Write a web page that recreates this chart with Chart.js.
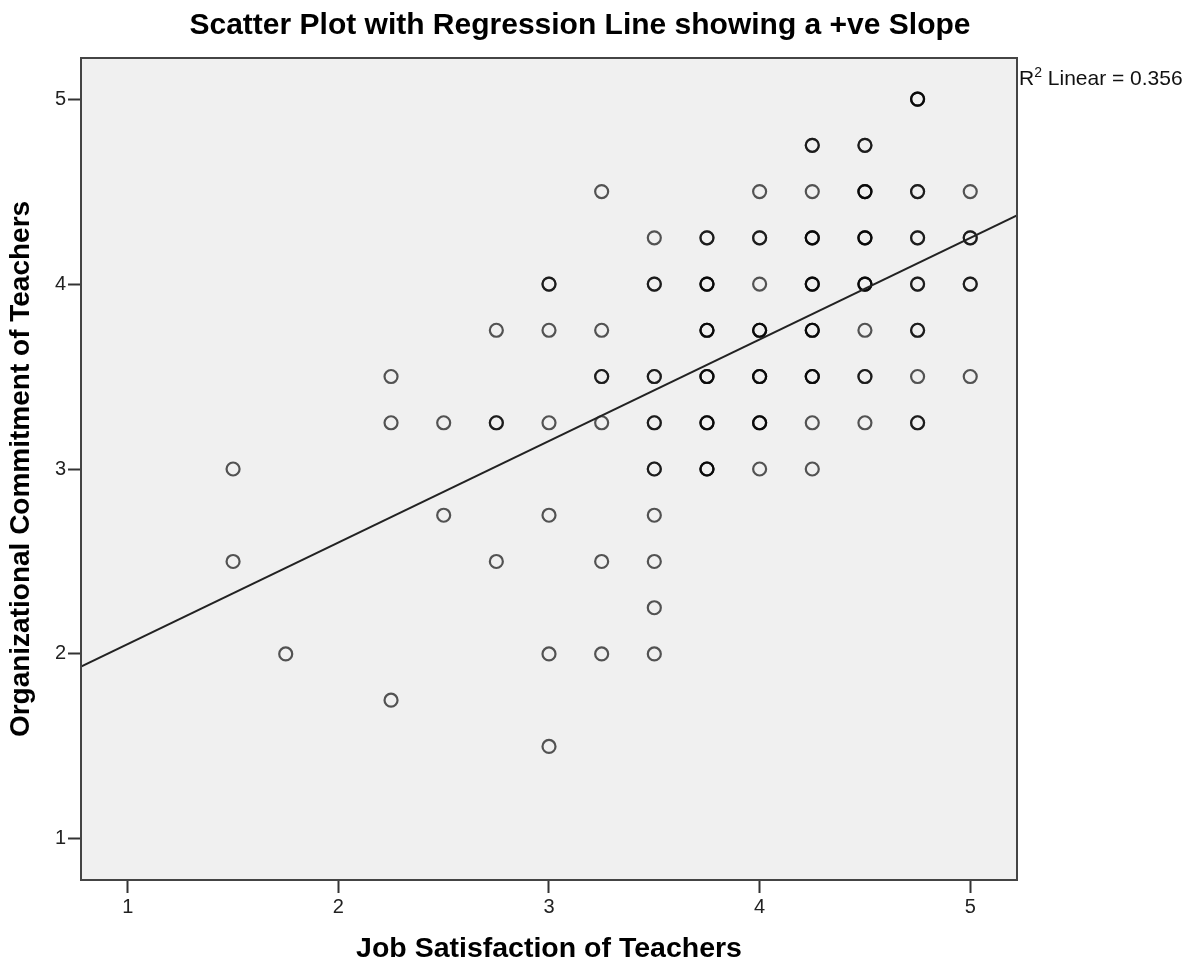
<!DOCTYPE html>
<html><head><meta charset="utf-8">
<script src="https://cdn.jsdelivr.net/npm/chart.js@4.4.1/dist/chart.umd.min.js"></script>
<style>html,body{margin:0;padding:0;background:#fff;}#wrap{width:1190px;height:964px;}</style>
</head><body><div id="wrap"><canvas id="c" width="1190" height="964"></canvas></div>
<script>
// Job satisfaction (x), organizational commitment (y), number of overlapping cases at that spot
const jobSatisfaction = [
  1.5,1.5,
  1.75,
  2.25,2.25,2.25,
  2.5,2.5,
  2.75,2.75,2.75,
  3,3,3,3,3,3,
  3.25,3.25,3.25,3.25,3.25,3.25,
  3.5,3.5,3.5,3.5,3.5,3.5,3.5,3.5,3.5,
  3.75,3.75,3.75,3.75,3.75,3.75,
  4,4,4,4,4,4,4,
  4.25,4.25,4.25,4.25,4.25,4.25,4.25,4.25,
  4.5,4.5,4.5,4.5,4.5,4.5,4.5,
  4.75,4.75,4.75,4.75,4.75,4.75,4.75,
  5,5,5,5
];
const orgCommitment = [
  3,2.5,
  2,
  3.5,3.25,1.75,
  3.25,2.75,
  3.75,3.25,2.5,
  4,3.75,3.25,2.75,2,1.5,
  4.5,3.75,3.5,3.25,2.5,2,
  4.25,4,3.5,3.25,3,2.75,2.5,2.25,2,
  4.25,4,3.75,3.5,3.25,3,
  4.5,4.25,4,3.75,3.5,3.25,3,
  4.75,4.5,4.25,4,3.75,3.5,3.25,3,
  4.75,4.5,4.25,4,3.75,3.5,3.25,
  5,4.5,4.25,4,3.75,3.5,3.25,
  4.5,4.25,4,3.5
];
const caseCounts = [
  1,1,
  1,
  1,1,1,
  1,1,
  1,2,1,
  2,1,1,1,1,1,
  1,1,2,1,1,1,
  1,2,2,2,2,1,1,1,1,
  2,3,3,3,3,3,
  1,2,1,3,3,3,1,
  2,1,3,3,3,3,1,1,
  2,3,3,3,1,2,1,
  3,2,2,2,2,1,2,
  1,2,2,1
];
const xTickValues = [1,2,3,4,5];
const yTickValues = [1,2,3,4,5];
const regressionIntercept = 1.504;
const regressionSlope = 0.549;
const rSquared = '0.356';

const axisMin = 0.778, axisMax = 5.222;
const FONT = '"Liberation Sans", Arial, sans-serif';

const points = [];
jobSatisfaction.forEach((x, i) => {
  for (let k = 0; k < caseCounts[i]; k++) points.push({x: x, y: orgCommitment[i]});
});
const fitLine = [axisMin, axisMax].map(x => ({x: x, y: regressionIntercept + regressionSlope * x}));

const framePlugin = {
  id: 'frame',
  beforeDatasetsDraw(chart) {
    const {ctx, chartArea: a} = chart;
    ctx.save();
    ctx.fillStyle = '#f0f0f0';
    ctx.fillRect(a.left, a.top, a.right - a.left, a.bottom - a.top);
    ctx.restore();
  },
  afterDraw(chart) {
    const {ctx, chartArea: a} = chart;
    ctx.save();
    ctx.strokeStyle = '#444';
    ctx.lineWidth = 2;
    ctx.strokeRect(a.left, a.top, a.right - a.left, a.bottom - a.top);
    // R squared annotation
    ctx.fillStyle = '#111';
    ctx.textBaseline = 'alphabetic';
    ctx.textAlign = 'left';
    let x = a.right + 2;
    const base = 85;
    ctx.font = '21px ' + FONT;
    ctx.fillText('R', x, base);
    x += ctx.measureText('R').width;
    ctx.font = '14px ' + FONT;
    ctx.fillText('2', x, base - 8);
    x += ctx.measureText('2').width;
    ctx.font = '21px ' + FONT;
    ctx.fillText(' Linear = ' + rSquared, x, base);
    ctx.restore();
  }
};

new Chart(document.getElementById('c'), {
  data: {
    datasets: [
      {
        type: 'scatter',
        data: points,
        pointStyle: 'circle',
        pointRadius: 6.5,
        pointHoverRadius: 6.5,
        pointBorderWidth: 2.2,
        pointBackgroundColor: 'rgba(0,0,0,0)',
        pointBorderColor: 'rgba(0,0,0,0.66)',
        order: 2
      },
      {
        type: 'line',
        data: fitLine,
        borderColor: '#222',
        borderWidth: 2,
        pointRadius: 0,
        fill: false,
        order: 1
      }
    ]
  },
  options: {
    responsive: false,
    animation: false,
    devicePixelRatio: 1,
    layout: {padding: {left: 0, right: 30, top: 0, bottom: 0}},
    plugins: {
      legend: {display: false},
      tooltip: {enabled: false},
      title: {
        display: true,
        text: 'Scatter Plot with Regression Line showing a +ve Slope',
        color: '#000',
        font: {family: FONT, size: 30, weight: 'bold', lineHeight: 1.2},
        padding: {top: 8, bottom: 14}
      }
    },
    scales: {
      x: {
        type: 'linear',
        min: axisMin, max: axisMax,
        afterBuildTicks: s => { s.ticks = xTickValues.map(v => ({value: v})); },
        afterFit: s => { s.height = 84; },
        ticks: {color: '#222', font: {family: FONT, size: 20}, padding: 2, maxRotation: 0, autoSkip: false},
        grid: {display: true, drawOnChartArea: false, drawTicks: true, tickLength: 13, tickWidth: 2, tickColor: '#333'},
        border: {display: true, color: '#444', width: 2},
        title: {display: true, text: 'Job Satisfaction of Teachers', color: '#000',
          font: {family: FONT, size: 28.5, weight: 'bold', lineHeight: 1}, padding: {top: 0, bottom: 1}}
      },
      y: {
        type: 'linear',
        min: axisMin, max: axisMax,
        afterBuildTicks: s => { s.ticks = yTickValues.map(v => ({value: v})); },
        afterFit: s => { s.width = 81; },
        ticks: {color: '#222', font: {family: FONT, size: 20}, padding: 2, autoSkip: false},
        grid: {display: true, drawOnChartArea: false, drawTicks: true, tickLength: 13, tickWidth: 2, tickColor: '#333'},
        border: {display: true, color: '#444', width: 2},
        title: {display: true, text: 'Organizational Commitment of Teachers', color: '#000',
          font: {family: FONT, size: 28, weight: 'bold', lineHeight: 1}, padding: {top: 7, bottom: 0}}
      },
      yRightSpace: {
        type: 'linear',
        position: 'right',
        display: true,
        afterFit: s => { s.width = 143; },
        ticks: {display: false},
        grid: {display: false, drawTicks: false},
        border: {display: false}
      }
    }
  },
  plugins: [framePlugin]
});
</script>
</body></html>
